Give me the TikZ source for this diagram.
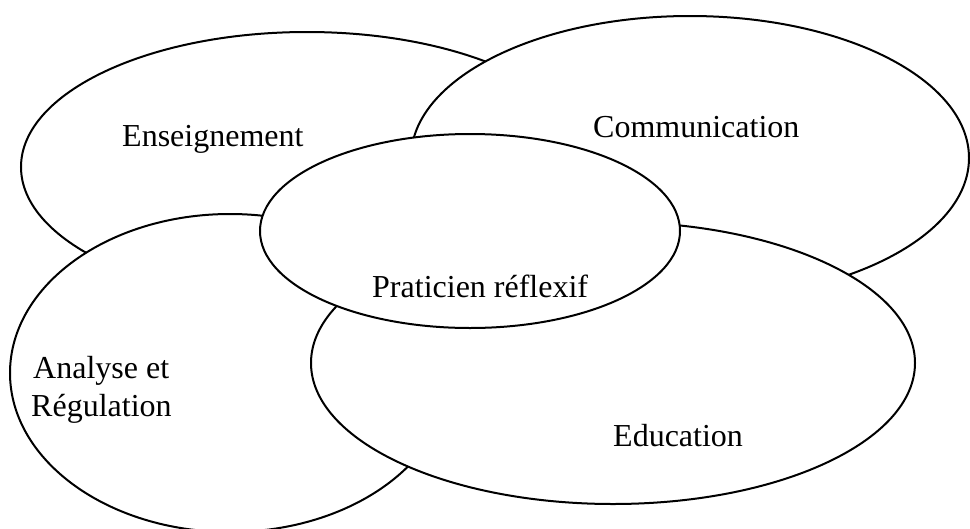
\documentclass[tikz,border=0pt]{standalone}
\usepackage{fontspec}
\setmainfont{Liberation Serif}
\usetikzlibrary{shapes.geometric}
\begin{document}
\begin{tikzpicture}[x=1pt,y=-1pt,
  field/.style={ellipse,draw=black,fill=white,line width=2pt,inner sep=0pt},
  lbl/.style={font=\fontsize{32}{38}\selectfont,inner sep=0pt,anchor=base west}]
\useasboundingbox (0,0) rectangle (970,528);
% overlapping fields, back to front
\node[field,minimum width=572pt,minimum height=270pt] (ens) at (307,167) {};
\node[field,minimum width=558pt,minimum height=284pt] (com) at (690,158) {};
\node[field,minimum width=440pt,minimum height=318pt] (ana) at (230,373) {};
\node[field,minimum width=604pt,minimum height=282pt] (edu) at (613,363) {};
\node[field,minimum width=420pt,minimum height=194pt] (pra) at (470,231) {};
% labels
\node[lbl] (tens) at (122,146) {Enseignement};
\node[lbl] (tcom) at (593,137) {Communication};
\node[lbl] (tpra) at (372,297) {Praticien réflexif};
\node[lbl] (tana1) at (33,378) {Analyse et};
\node[lbl] (tana2) at (31,416) {Régulation};
\node[lbl] (tedu) at (613,446) {Education};
\end{tikzpicture}
\end{document}
